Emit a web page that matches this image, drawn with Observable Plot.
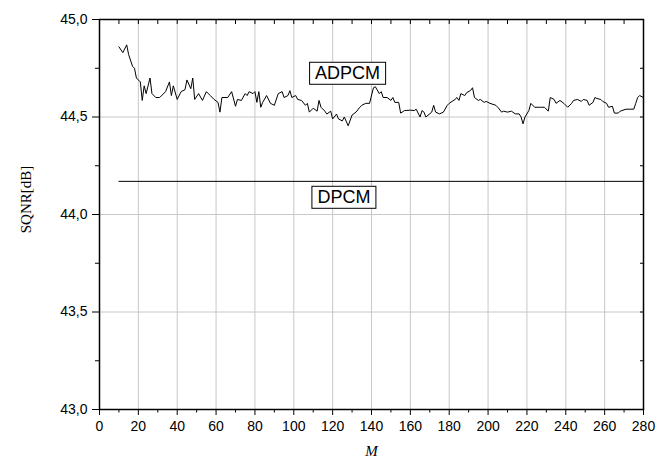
<!DOCTYPE html>
<html>
<head>
<meta charset="utf-8">
<script src="https://cdn.jsdelivr.net/npm/d3@7"></script>
<script src="https://cdn.jsdelivr.net/npm/@observablehq/plot@0.6"></script>
<style>
  html, body { margin: 0; padding: 0; background: #fff; }
</style>
</head>
<body>
<div id="chart"></div>
<script>
// ---- data ----
const adpcmM = [10,12,14,15,17,18,19,21,22,23,24,26,27,29,31,34,36,37,38,40,42,44,45,47,48,49,51,53,55,57,59,61,62,63,66,68,70,71,73,75,76,77,79,80,81,82,83,84,86,88,90,92,94,95,97,98,99,101,102,104,106,107,108,110,112,113,114,116,117,119,120,122,123,125,126,128,130,132,134,135,137,139,141,142,144,145,146,148,150,151,152,154,155,157,160,162,163,165,166,167,168,171,172,173,175,177,179,180,183,184,185,186,188,189,191,192,193,195,196,198,199,201,204,205,207,208,210,212,214,216,217,218,219,221,222,224,227,229,231,232,234,235,237,239,241,243,244,246,248,249,251,252,254,255,256,258,259,261,262,264,265,267,268,271,273,275,276,277,278,280];
const adpcmSQNR = [44.86,44.83,44.87,44.82,44.76,44.75,44.70,44.68,44.585,44.66,44.62,44.70,44.62,44.60,44.60,44.63,44.68,44.61,44.66,44.59,44.63,44.64,44.69,44.645,44.70,44.59,44.62,44.585,44.63,44.61,44.59,44.575,44.525,44.60,44.60,44.63,44.555,44.59,44.585,44.62,44.61,44.63,44.62,44.63,44.575,44.63,44.55,44.575,44.61,44.57,44.56,44.62,44.63,44.60,44.61,44.635,44.60,44.61,44.59,44.585,44.56,44.57,44.525,44.545,44.53,44.585,44.55,44.53,44.515,44.53,44.49,44.515,44.49,44.48,44.50,44.455,44.51,44.525,44.55,44.56,44.57,44.57,44.65,44.655,44.62,44.63,44.60,44.60,44.585,44.60,44.575,44.575,44.52,44.533,44.535,44.533,44.54,44.50,44.533,44.525,44.50,44.525,44.56,44.525,44.516,44.525,44.56,44.57,44.59,44.60,44.585,44.62,44.61,44.625,44.636,44.65,44.60,44.585,44.59,44.575,44.58,44.57,44.56,44.55,44.525,44.53,44.525,44.53,44.516,44.516,44.50,44.465,44.50,44.533,44.57,44.55,44.55,44.55,44.53,44.60,44.59,44.57,44.585,44.57,44.55,44.57,44.585,44.59,44.58,44.59,44.585,44.56,44.575,44.60,44.595,44.59,44.58,44.57,44.55,44.555,44.52,44.52,44.53,44.54,44.54,44.54,44.57,44.60,44.61,44.60];
const dpcmM = [10, 280];
const dpcmSQNR = [44.17, 44.17];

const xTicks = [0,20,40,60,80,100,120,140,160,180,200,220,240,260,280];
const xMinorTicks = [10,30,50,70,90,110,130,150,170,190,210,230,250,270];
const yTicks = [43.0,43.5,44.0,44.5,45.0];
const yMinorTicks = [43.25,43.75,44.25,44.75];

const labelNames = ["ADPCM", "DPCM"];
const labelM = [127.7, 125.8];
const labelSQNR = [44.723, 44.087];

// ---- tables built from the arrays ----
const adpcm = adpcmM.map((m, i) => ({M: m, v: adpcmSQNR[i]}));
const dpcm = dpcmM.map((m, i) => ({M: m, v: dpcmSQNR[i]}));
const labels = labelNames.map((t, i) => ({t, M: labelM[i], v: labelSQNR[i]}));
const fmtY = d => d.toFixed(1).replace(".", ",");
const blank = () => "";
const sans = "'Liberation Sans', Arial, sans-serif";
const serif = "'Liberation Serif', 'Times New Roman', serif";

const chart = Plot.plot({
  width: 657,
  height: 460,
  marginLeft: 99,
  marginRight: 14,
  marginTop: 19,
  marginBottom: 51,
  style: {fontFamily: sans, fontSize: "14px", background: "#fff", color: "#000"},
  x: {domain: [0, 280], label: null},
  y: {domain: [43, 45], label: null},
  marks: [
    Plot.gridX(xTicks, {stroke: "#c8c8c8", strokeOpacity: 1, strokeWidth: 1}),
    Plot.gridY(yTicks, {stroke: "#c8c8c8", strokeOpacity: 1, strokeWidth: 1}),
    Plot.line(dpcm, {x: "M", y: "v", stroke: "#000", strokeWidth: 1}),
    Plot.line(adpcm, {x: "M", y: "v", stroke: "#000", strokeWidth: 1}),
    Plot.text(labels, {x: "M", y: "v", text: "t", fontSize: 18, fontFamily: sans,
      textAnchor: "middle", lineAnchor: "middle", fill: "#000", className: "serieslabel"}),
    // bottom axis
    Plot.axisX({ticks: xTicks, tickSize: 6, tickPadding: 6, fontSize: 14, label: null, tickFormat: d => d}),
    Plot.axisX({ticks: xMinorTicks, tickSize: 3.5, label: null, tickFormat: blank}),
    // left axis
    Plot.axisY({ticks: yTicks, tickSize: 7, tickPadding: 5, fontSize: 14, label: null, tickFormat: fmtY}),
    Plot.axisY({ticks: yMinorTicks, tickSize: 4, label: null, tickFormat: blank}),
    // top inward ticks
    Plot.axisX({anchor: "top", ticks: xMinorTicks.concat(xTicks), tickSize: 4, dy: 4, label: null, tickFormat: blank}),
    // right inward ticks
    Plot.axisY({anchor: "right", ticks: yMinorTicks.concat(yTicks), tickSize: 4, dx: -4, label: null, tickFormat: blank}),
    Plot.frame({stroke: "#000", strokeWidth: 1.5}),
    Plot.text(["SQNR[dB]"], {frameAnchor: "left", dx: -73, dy: -15, rotate: -90, text: d => d,
      textAnchor: "middle", lineAnchor: "middle",
      fontFamily: serif, fontSize: 15, fill: "#000"}),
    Plot.text(["M"], {frameAnchor: "bottom", dy: 42, text: d => d,
      textAnchor: "middle", lineAnchor: "middle",
      fontFamily: serif, fontStyle: "italic", fontSize: 15, fill: "#000"})
  ]
});

document.getElementById("chart").appendChild(chart);

// draw a white box with a black outline behind each series label
const padX = 5.5, padY = 1;
chart.querySelectorAll(".serieslabel text, g.serieslabel text").forEach(t => {
  const b = t.getBBox();
  const r = document.createElementNS("http://www.w3.org/2000/svg", "rect");
  r.setAttribute("x", b.x - padX);
  r.setAttribute("y", b.y - padY);
  r.setAttribute("width", b.width + 2 * padX);
  r.setAttribute("height", b.height + 2 * padY);
  r.setAttribute("fill", "#fff");
  r.setAttribute("stroke", "#000");
  r.setAttribute("stroke-width", 1);
  const tr = t.getAttribute("transform");
  if (tr) r.setAttribute("transform", tr);
  t.parentNode.insertBefore(r, t);
});
</script>
</body>
</html>
